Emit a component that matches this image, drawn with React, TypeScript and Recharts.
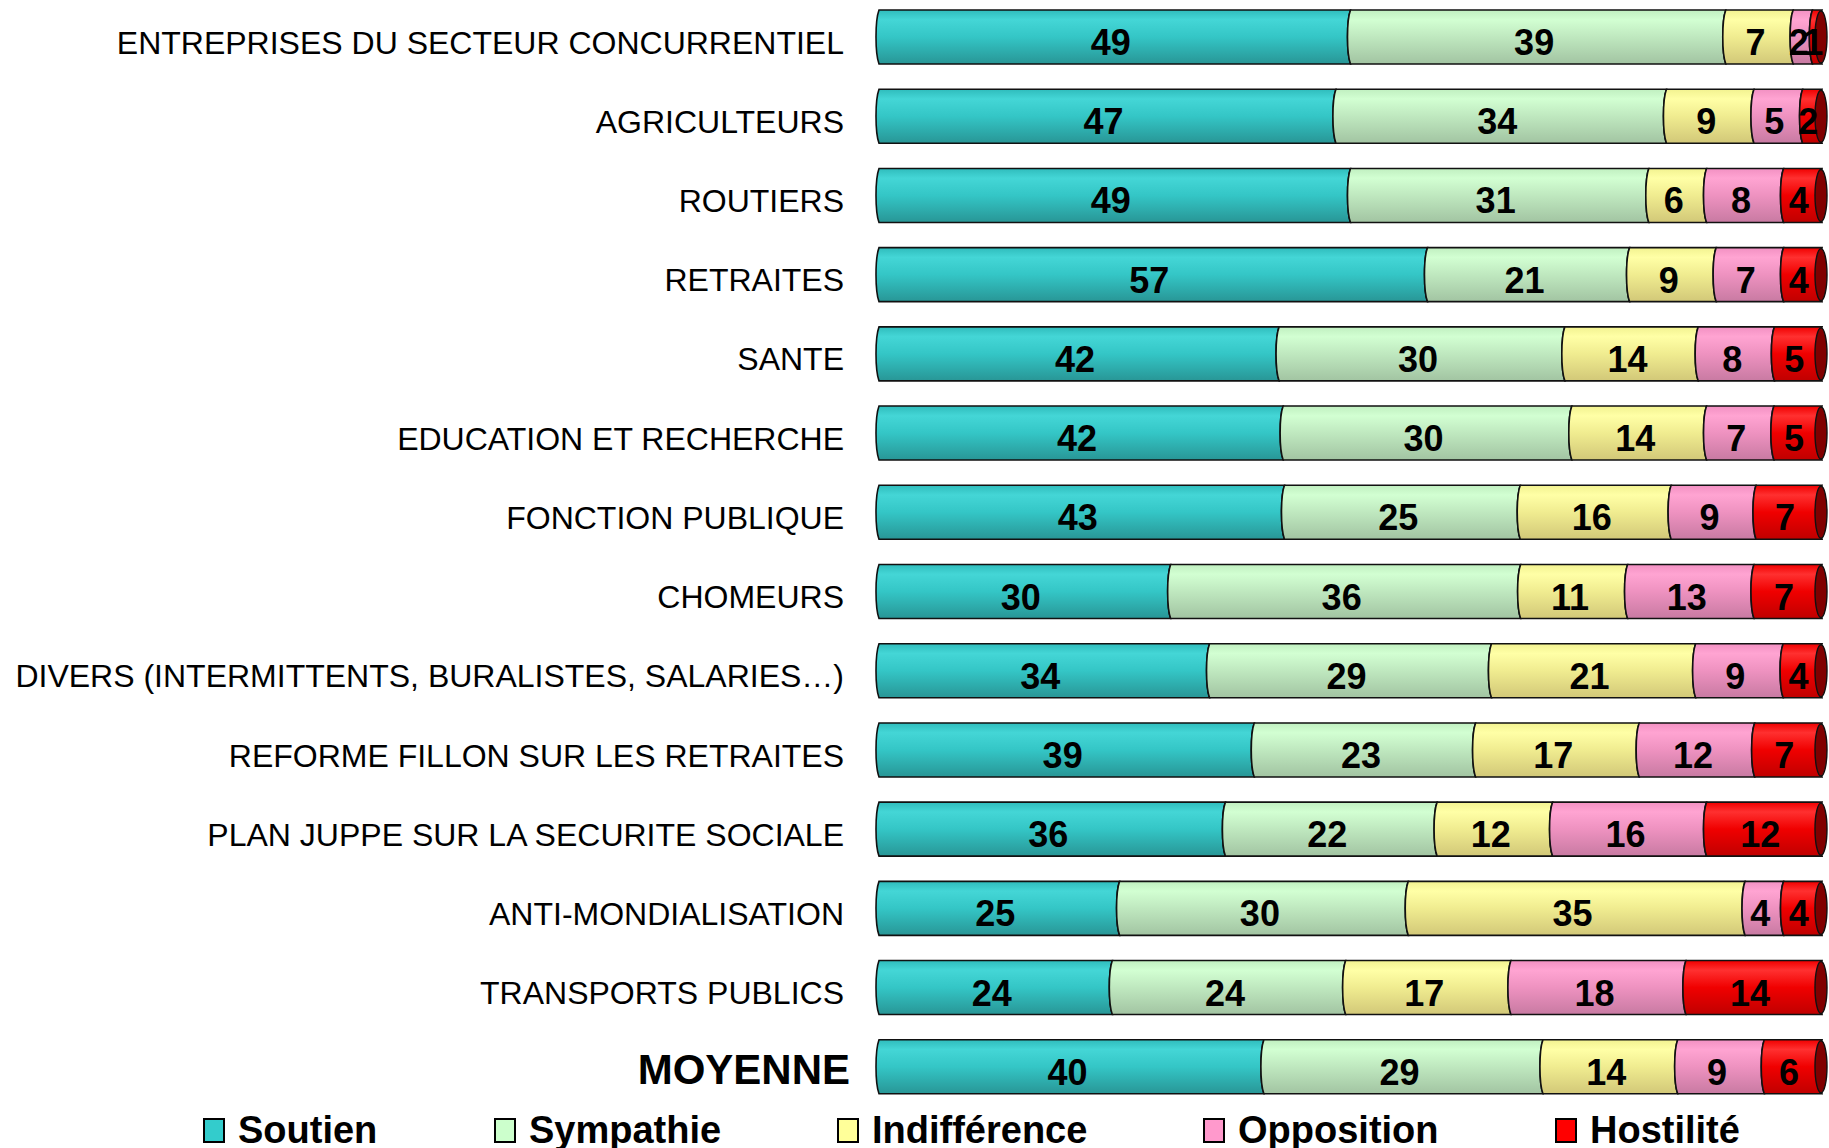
import React from 'react';
import { BarChart, Bar, XAxis, YAxis, LabelList } from 'recharts';

const categories = [
  'ENTREPRISES DU SECTEUR CONCURRENTIEL',
  'AGRICULTEURS',
  'ROUTIERS',
  'RETRAITES',
  'SANTE',
  'EDUCATION ET RECHERCHE',
  'FONCTION PUBLIQUE',
  'CHOMEURS',
  'DIVERS (INTERMITTENTS, BURALISTES, SALARIES…)',
  'REFORME FILLON SUR LES RETRAITES',
  'PLAN JUPPE SUR LA SECURITE SOCIALE',
  'ANTI-MONDIALISATION',
  'TRANSPORTS PUBLICS',
  'MOYENNE',
];

const soutien = [49, 47, 49, 57, 42, 42, 43, 30, 34, 39, 36, 25, 24, 40];
const sympathie = [39, 34, 31, 21, 30, 30, 25, 36, 29, 23, 22, 30, 24, 29];
const indifference = [7, 9, 6, 9, 14, 14, 16, 11, 21, 17, 12, 35, 17, 14];
const opposition = [2, 5, 8, 7, 8, 7, 9, 13, 9, 12, 16, 4, 18, 9];
const hostilite = [1, 2, 4, 4, 5, 5, 7, 7, 4, 7, 12, 4, 14, 6];

const series = [
  { key: 'soutien', name: 'Soutien', color: '#33CCCC', stops: ['#2fbcbc', '#44d6d6', '#34c6c6', '#289696'] },
  { key: 'sympathie', name: 'Sympathie', color: '#CCFFCC', stops: ['#c0efc0', '#d2ffd2', '#bfe8bf', '#a2c4a2'] },
  { key: 'indifference', name: 'Indifférence', color: '#FFFF99', stops: ['#f2f290', '#ffffa6', '#f0ec90', '#d2c878'] },
  { key: 'opposition', name: 'Opposition', color: '#FF99CC', stops: ['#f290c2', '#ffa4d2', '#ee92c0', '#c87aa2'] },
  { key: 'hostilite', name: 'Hostilité', color: '#FF0000', stops: ['#f00000', '#ff3030', '#f00000', '#c00000'] },
];

const data = categories.map((name, i) => ({
  name,
  soutien: soutien[i],
  sympathie: sympathie[i],
  indifference: indifference[i],
  opposition: opposition[i],
  hostilite: hostilite[i],
}));

const FONT = '"Liberation Sans", Arial, sans-serif';

// segment outline with the slightly rounded "(" edges of the 3D cylinder look
const segmentPath = (x: number, y: number, w: number, h: number) => {
  const k = 4;
  return `M${x + k},${y} H${x + w + k} C${x + w},${y + h * 0.2} ${x + w},${y + h * 0.8} ${x + w + k},${y + h} H${x + k} C${x},${y + h * 0.8} ${x},${y + h * 0.2} ${x + k},${y} Z`;
};

const makeShape = (key: string, last: boolean) => (props: any) => {
  const { x, y, width, height } = props;
  if (width == null || height == null) return null;
  return (
    <g>
      <path d={segmentPath(x, y, width, height)} fill={`url(#grad-${key})`} stroke="#111" strokeWidth={1.6} />
      {last && (
        <ellipse cx={x + width + 3} cy={y + height / 2} rx={6} ry={height / 2 - 1} fill="#800000" stroke="#111" strokeWidth={1.4} />
      )}
    </g>
  );
};

const SegmentLabel = (props: any) => {
  const { x, y, width, height, value } = props;
  return (
    <text
      x={x + width / 2}
      y={y + height / 2 + 18}
      textAnchor="middle"
      fontFamily={FONT}
      fontWeight="bold"
      fontSize={36}
      fill="#000"
    >
      {value}
    </text>
  );
};

const CategoryTick = ({ x, y, payload }: any) => {
  const isAvg = payload.value === 'MOYENNE';
  return (
    <text
      x={isAvg ? x - 17 : x - 23}
      y={isAvg ? y + 18 : y + 17}
      textAnchor="end"
      fontFamily={FONT}
      fontWeight={isAvg ? 'bold' : 'normal'}
      fontSize={isAvg ? 42 : 32}
      fill="#000"
    >
      {payload.value}
    </text>
  );
};

const ChartLegend = () => (
  <svg width={1829} height={60} style={{ position: 'absolute', left: 0, top: 1100 }}>
    <g>
      {series.map((s, i) => {
        const starts = [203, 494, 837, 1203, 1555];
        const sx = starts[i];
        return (
          <g key={s.key}>
            <rect x={sx + 1} y={19} width={20} height={23} fill={s.color} stroke="#000" strokeWidth={2} />
            <text x={sx + 35} y={43} fontFamily={FONT} fontWeight="bold" fontSize={38} fill="#000">
              {s.name}
            </text>
          </g>
        );
      })}
    </g>
  </svg>
);

export default function App() {
  return (
    <div style={{ position: 'absolute', left: 0, top: 0, width: 1829, height: 1148, background: '#fff' }}>
      <BarChart
        width={1829}
        height={1148}
        data={data}
        layout="vertical"
        stackOffset="expand"
        barSize={54}
        margin={{ top: -3, right: 11, bottom: 42, left: 0 }}
      >
        <defs>
          {series.map((s) => (
            <linearGradient key={s.key} id={`grad-${s.key}`} x1="0" y1="0" x2="0" y2="1">
              <stop offset="0%" stopColor={s.stops[0]} />
              <stop offset="18%" stopColor={s.stops[1]} />
              <stop offset="50%" stopColor={s.stops[2]} />
              <stop offset="100%" stopColor={s.stops[3]} />
            </linearGradient>
          ))}
        </defs>
        <XAxis type="number" hide domain={[0, 1]} />
        <YAxis
          type="category"
          dataKey="name"
          width={875}
          axisLine={false}
          tickLine={false}
          interval={0}
          tick={<CategoryTick />}
        />
        {series.map((s, i) => (
          <Bar
            key={s.key}
            dataKey={s.key}
            stackId="a"
            fill={s.color}
            isAnimationActive={false}
            shape={makeShape(s.key, i === series.length - 1)}
          >
            <LabelList dataKey={s.key} content={<SegmentLabel />} />
          </Bar>
        ))}
      </BarChart>
      <ChartLegend />
    </div>
  );
}
